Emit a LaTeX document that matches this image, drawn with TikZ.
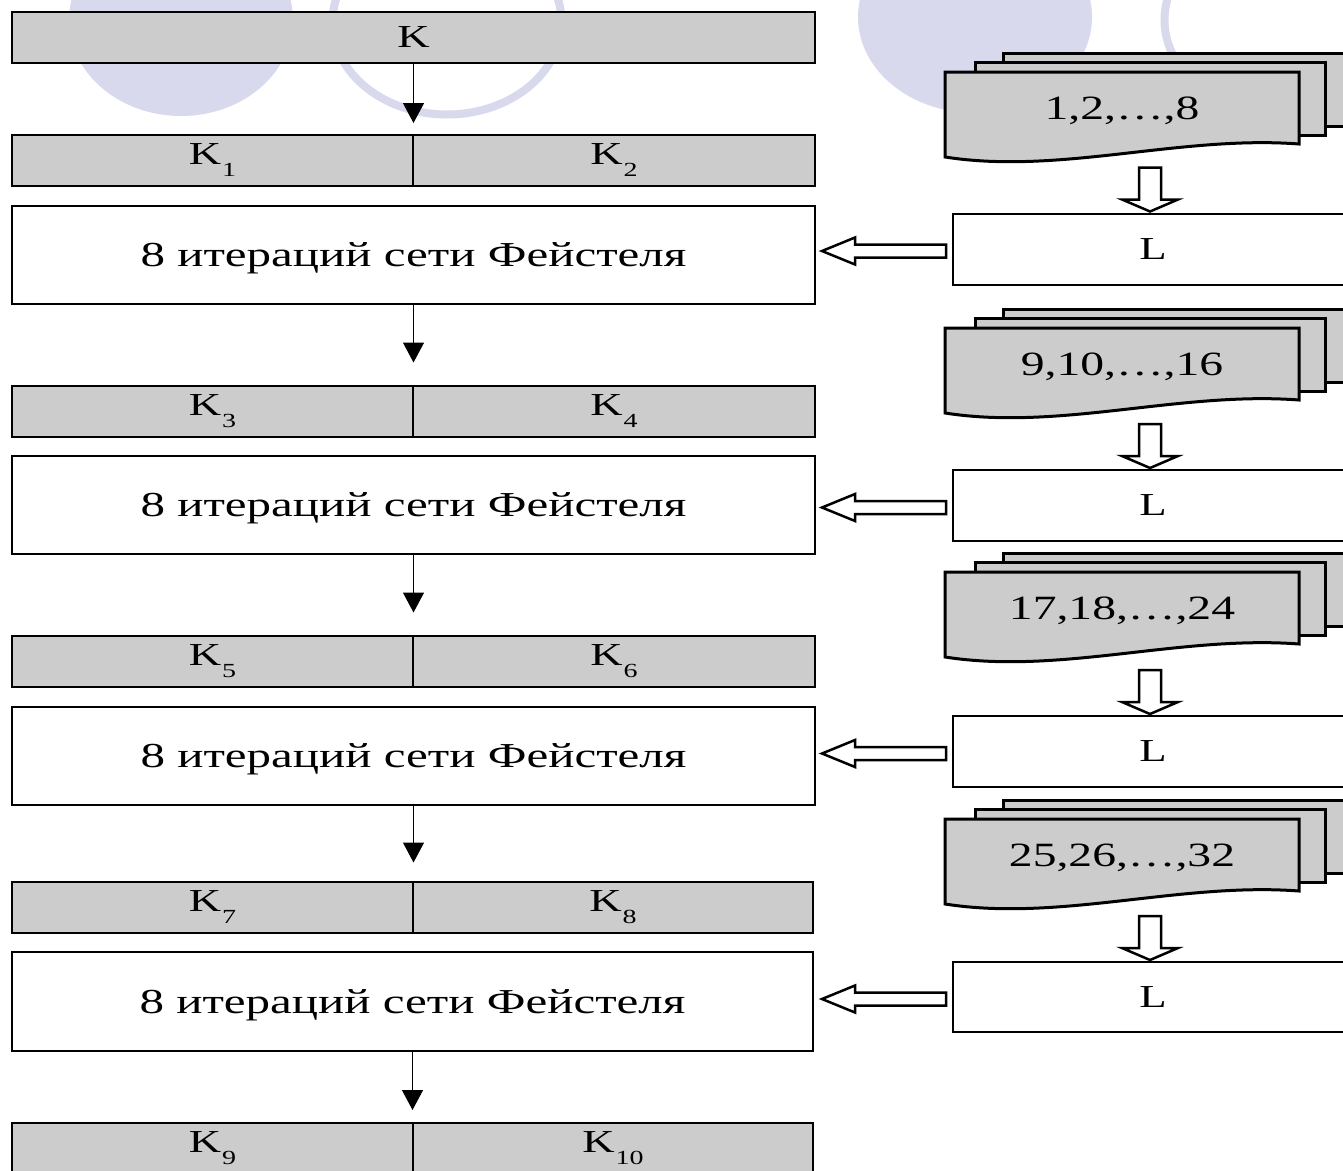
\documentclass[tikz,border=0pt]{standalone}
\usepackage{fontspec}
\setmainfont{Liberation Serif}[FakeStretch=1.4]
\usetikzlibrary{arrows.meta,calc}
\definecolor{boxgray}{RGB}{204,204,204}
\definecolor{lav}{RGB}{217,217,238}
\newcommand\ksub[1]{\kern1pt\raisebox{-12pt}{\fontsize{20}{20}\selectfont #1}}
\newcommand\mydocstack[3]{%
  \draw[docline] (1003,{#1-19}) rectangle (1353,{#1+54});
  \draw[docline] (975,{#1-10}) rectangle (1325,{#1+63});
  \draw[docline] (945,#1) -- (1299,#1) -- (1299,{#1+72})
     .. controls (1180,{#1+63}) and (1060,{#1+103}) .. (945,{#1+85}) -- cycle;
  \node[doctext] (#2) at (1122,{#1+39}) {#3};
}
\newcommand\hollowdown[1]{%
  \draw[hollow] ($(#1.north)+(-3,-2)$) -- ++(-28,-12) -- ++(17,0) -- ++(0,-32)
     -- ++(22,0) -- ++(0,32) -- ++(17,0) -- cycle;
}
\newcommand\hollowleft[1]{%
  \draw[hollow] ($(#1.west)+(-7,-4.5)$) -- ++(-91,0) -- ++(0,-7) -- ++(-33,13.5)
     -- ++(33,13.5) -- ++(0,-7) -- ++(91,0) -- cycle;
}
\begin{document}
\begin{tikzpicture}[x=1pt,y=-1pt,
  keybox/.style={draw=black,line width=2pt,fill=boxgray,inner sep=0pt,outer sep=0pt,
    minimum height=51pt,font=\fontsize{32}{36}\selectfont},
  feistel/.style={draw=black,line width=2pt,fill=white,inner sep=0pt,outer sep=0pt,
    minimum width=803pt,minimum height=98pt,text height=30pt,text depth=7pt,
    font=\fontsize{35}{40}\selectfont},
  lbox/.style={draw=black,line width=2pt,fill=white,inner sep=0pt,outer sep=0pt,
    minimum width=400pt,minimum height=71pt,font=\fontsize{32}{36}\selectfont},
  doctext/.style={inner sep=0pt,font=\fontsize{34}{38}\selectfont},
  docline/.style={draw=black,line width=3pt,fill=boxgray,line join=miter},
  flow/.style={line width=1.3pt,-{Triangle[width=21pt,length=20pt]}},
  hollow/.style={draw=black,line width=2.5pt,fill=white,line join=miter},
  deco/.style={fill=lav},
  decoring/.style={draw=lav,line width=8pt}
]
\useasboundingbox (0,0) rectangle (1343,1170);
\clip (0,0) rectangle (1343,1170);
\fill[white] (0,0) rectangle (1343,1170);

% decorative background ovals
\fill[deco] (181,20) ellipse [x radius=112pt, y radius=96pt];
\draw[decoring] (447,22) ellipse [x radius=114.5pt, y radius=92.5pt];
\fill[deco] (975,17) ellipse [x radius=117pt, y radius=96pt];
\draw[decoring] (1279,20) ellipse [x radius=114.5pt, y radius=92.5pt];

% left column
\node[keybox,minimum width=803pt] (K) at (413.5,37) {K};
\node[keybox,minimum width=401pt] (K1) at (212.5,160.5) {K\ksub{1}};
\node[keybox,minimum width=402pt] (K2) at (614,160.5) {K\ksub{2}};
\node[feistel] (F1) at (413.5,255) {8 итераций сети Фейстеля};
\node[keybox,minimum width=401pt] (K3) at (212.5,411) {K\ksub{3}};
\node[keybox,minimum width=402pt] (K4) at (614,411) {K\ksub{4}};
\node[feistel] (F2) at (413.5,505) {8 итераций сети Фейстеля};
\node[keybox,minimum width=401pt] (K5) at (212.5,661) {K\ksub{5}};
\node[keybox,minimum width=402pt] (K6) at (614,661) {K\ksub{6}};
\node[feistel] (F3) at (413.5,756) {8 итераций сети Фейстеля};
\node[keybox,minimum width=401pt] (K7) at (212.5,907) {K\ksub{7}};
\node[keybox,minimum width=400pt] (K8) at (613,907) {K\ksub{8}};
\node[feistel,minimum width=801pt,minimum height=99pt] (F4) at (412.5,1001.5) {8 итераций сети Фейстеля};
\node[keybox,minimum width=401pt,minimum height=50pt] (K9) at (212.5,1148) {K\ksub{9}};
\node[keybox,minimum width=400pt,minimum height=50pt] (K10) at (613,1148) {K\ksub{10}};

\draw[flow,shorten >=12pt] (K.south) -- (K.south |- K1.north);
\draw[flow,shorten >=23pt] (F1.south) -- (F1.south |- K3.north);
\draw[flow,shorten >=23pt] (F2.south) -- (F2.south |- K5.north);
\draw[flow,shorten >=19pt] (F3.south) -- (F3.south |- K7.north);
\draw[flow,shorten >=13pt] (F4.south) -- (F4.south |- K9.north);

% right column
\mydocstack{72}{D1}{1,2,…,8}
\mydocstack{328}{D2}{9,10,…,16}
\mydocstack{572}{D3}{17,18,…,24}
\mydocstack{819}{D4}{25,26,…,32}

\node[lbox] (L1) at (1153,249) {L};
\node[lbox] (L2) at (1153,505.5) {L};
\node[lbox] (L3) at (1153,751.5) {L};
\node[lbox,minimum height=70pt] (L4) at (1153,997) {L};

\hollowdown{L1}\hollowdown{L2}\hollowdown{L3}\hollowdown{L4}
\hollowleft{L1}\hollowleft{L2}\hollowleft{L3}\hollowleft{L4}
\end{tikzpicture}
\end{document}
